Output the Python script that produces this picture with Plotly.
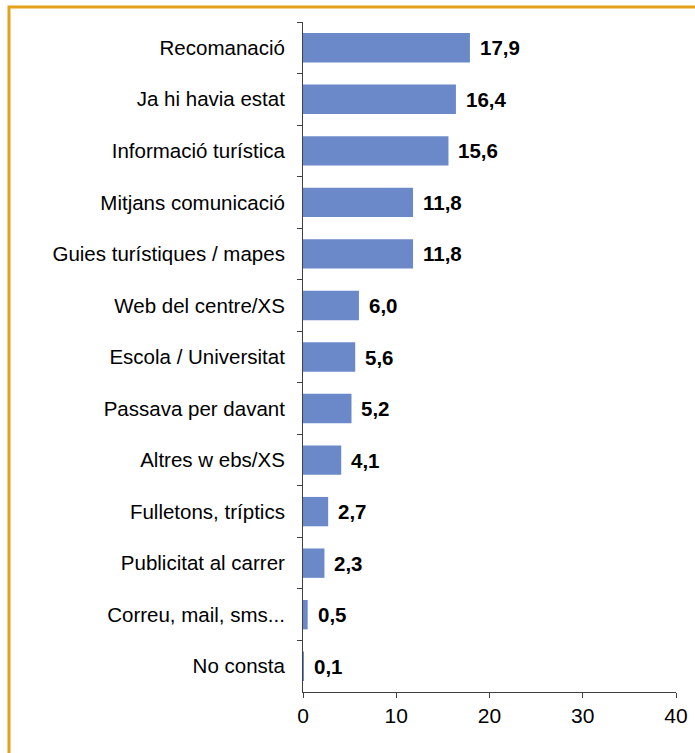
import plotly.graph_objects as go

# data, top to bottom
categories = [
    "Recomanació", "Ja hi havia estat", "Informació turística",
    "Mitjans comunicació", "Guies turístiques / mapes", "Web del centre/XS",
    "Escola / Universitat", "Passava per davant", "Altres w ebs/XS",
    "Fulletons, tríptics", "Publicitat al carrer", "Correu, mail, sms...",
    "No consta",
]
values = [17.9, 16.4, 15.6, 11.8, 11.8, 6.0, 5.6, 5.2, 4.1, 2.7, 2.3, 0.5, 0.1]
x_ticks = [0, 10, 20, 30, 40]

W, H = 695, 753
ml, mr, mt, mb = 303, 19, 22, 61
pw, ph = W - ml - mr, H - mt - mb
font = "Liberation Sans, Arial, sans-serif"

fig = go.Figure()
fig.add_trace(go.Bar(
    x=values, y=categories, orientation="h",
    marker=dict(color="#6B88C9", line=dict(width=0)),
    width=0.57, hoverinfo="skip",
))

# value labels to the right of each bar
for cat, v in zip(categories, values):
    fig.add_annotation(
        x=v, y=cat, text=f"<b>{v:.1f}</b>".replace(".", ","),
        xanchor="left", xshift=8, showarrow=False,
        font=dict(size=20.5, color="black", family=font),
    )

# orange frame around the chart (runs off the right/bottom edges)
fig.add_shape(
    type="rect", xref="paper", yref="paper",
    x0=(9 - ml) / pw, x1=(W + 5 - ml) / pw,
    y0=-(mb + 5) / ph, y1=(H - mb - 7) / ph,
    line=dict(color="#E3A21A", width=3), layer="above",
)

fig.update_layout(
    width=W, height=H,
    margin=dict(l=ml, r=mr, t=mt, b=mb, autoexpand=False),
    paper_bgcolor="white", plot_bgcolor="white",
    showlegend=False,
    font=dict(family=font, size=20.5, color="black"),
)
fig.update_xaxes(
    range=[0, 40], tickvals=x_ticks, showgrid=False, zeroline=False,
    showline=True, linecolor="#404040", linewidth=1,
    ticks="outside", ticklen=5, tickcolor="#404040",
    tickfont=dict(size=21), fixedrange=True, automargin=False,
)
fig.update_yaxes(
    type="category", autorange="reversed", showgrid=False,
    showline=True, linecolor="#404040", linewidth=1,
    ticks="outside", ticklen=5, tickcolor="#404040", tickson="boundaries",
    ticklabelstandoff=13, tickfont=dict(size=20.5), fixedrange=True,
    automargin=False,
)

fig.write_html(
    "out.html",
    config={"displayModeBar": False},
    post_script="document.body.style.margin='0';",
)
